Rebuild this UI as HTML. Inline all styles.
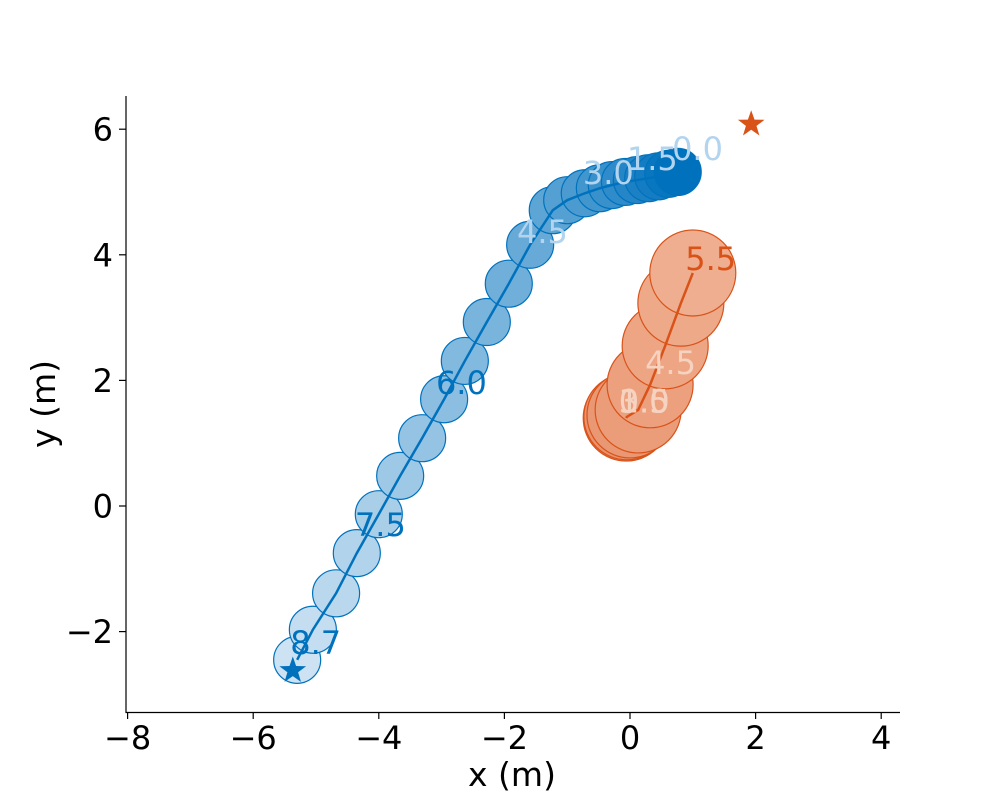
<!DOCTYPE html>
<html><head><meta charset="utf-8"><style>
body{margin:0;background:#fff}
svg{display:block;font-family:"DejaVu Sans","Liberation Sans",sans-serif}
</style></head><body>
<svg id="chart" width="1000" height="800">
<g id="plot"></g>
<g id="axes"></g>
</svg>
<script>
const blueX=[0.76,0.61,0.45,0.29,0.11,-0.08,-0.29,-0.48,-0.72,-1.00,-1.23,-1.59,-1.93,-2.28,-2.63,-2.96,-3.31,-3.66,-4.00,-4.35,-4.68,-5.05,-5.30];
const blueY=[5.32,5.29,5.25,5.22,5.19,5.16,5.11,5.06,4.98,4.87,4.71,4.16,3.54,2.93,2.31,1.70,1.08,0.48,-0.13,-0.75,-1.39,-1.97,-2.45];
const orangeX=[-0.06,-0.05,0.00,0.13,0.32,0.56,0.81,1.00];
const orangeY=[1.40,1.42,1.45,1.53,1.93,2.55,3.23,3.71];
const blueLabels=["0.0","1.5","3.0","4.5","6.0","7.5","8.7"];
const blueLabelX=[0.67,-0.05,-0.75,-1.80,-3.09,-4.38,-5.41];
const blueLabelY=[5.51,5.35,5.13,4.19,1.78,-0.48,-2.36];
const blueLabelLight=[1,1,1,1,0,0,0];
const orangeLabels=["0.0","1.5","3.0","4.5","5.5"];
const orangeLabelX=[-0.18,-0.18,-0.18,0.24,0.88];
const orangeLabelY=[1.49,1.49,1.49,2.10,3.76];
const orangeLabelLight=[1,1,1,1,0];
const goalBlue=[-5.37,-2.62];
const goalOrange=[1.93,6.08];
const xTicks=[-8,-6,-4,-2,0,2,4];
const yTicks=[-2,0,2,4,6];

const NS="http://www.w3.org/2000/svg";
const sx=v=>630+62.8*v, sy=v=>506-62.8*v;
const plot=document.getElementById('plot'), axes=document.getElementById('axes');
function mk(tag,attrs,parent){const e=document.createElementNS(NS,tag);for(const k in attrs)e.setAttribute(k,attrs[k]);parent.appendChild(e);return e;}
function mix(a,b,t){return 'rgb('+a.map((v,i)=>Math.round(v+(b[i]-v)*t)).join(',')+')';}

for(let i=0;i<orangeX.length;i++){
  const c=mk('circle',{cx:sx(orangeX[i]),cy:sy(orangeY[i]),r:43,fill:mix([232,142,104],[239,174,143],i/(orangeX.length-1)),stroke:'#d95319','stroke-width':1.2},plot);
  
  
}
let od=orangeX.map((v,i)=>(i?'L':'M')+sx(v)+' '+sy(orangeY[i])).join(' ');
const ol=mk('path',{d:od,fill:'none',stroke:'#d95319','stroke-width':2.5},plot);



for(let i=blueX.length-1;i>=0;i--){
  const c=mk('circle',{cx:sx(blueX[i]),cy:sy(blueY[i]),r:23.5,fill:mix([0,114,189],[205,226,242],i/(blueX.length-1)),stroke:'#0072bd','stroke-width':1.2},plot);
  
  
}
let bd=blueX.map((v,i)=>(i?'L':'M')+sx(v)+' '+sy(blueY[i])).join(' ');
const bl=mk('path',{d:bd,fill:'none',stroke:'#0072bd','stroke-width':2.5},plot);



function star(x,y,r,color,name){
  let p=[];for(let k=0;k<10;k++){const a=-Math.PI/2+k*Math.PI/5;const rr=k%2?r*0.4:r;p.push((x+rr*Math.cos(a)).toFixed(1)+','+(y+rr*Math.sin(a)).toFixed(1));}
  const s=mk('polygon',{points:p.join(' '),fill:color},plot);
  
  
}
star(sx(goalBlue[0]),sy(goalBlue[1]),14,'#0072bd','blue-goal-star');
star(sx(goalOrange[0]),sy(goalOrange[1]),14,'#d95319','orange-goal-star');

for(let i=0;i<blueLabels.length;i++){
  const t=mk('text',{x:sx(blueLabelX[i]),y:sy(blueLabelY[i]),'font-size':32,fill:blueLabelLight[i]?'#b3d4ee':'#0072bd'},plot);
  t.textContent=blueLabels[i];
  
  
}
for(let i=0;i<orangeLabels.length;i++){
  const t=mk('text',{x:sx(orangeLabelX[i]),y:sy(orangeLabelY[i]),'font-size':32,fill:orangeLabelLight[i]?'#f6d2c1':'#d95319'},plot);
  t.textContent=orangeLabels[i];
  
  
}

const ls=mk('line',{x1:126,y1:96,x2:126,y2:713,stroke:'#000','stroke-width':1.2},axes);


const bs=mk('line',{x1:125.5,y1:712.5,x2:900,y2:712.5,stroke:'#000','stroke-width':1.2},axes);


for(const v of xTicks){
  const x=sx(v);
  const l=mk('line',{x1:x,y1:712,x2:x,y2:719,stroke:'#000','stroke-width':1.2},axes);
  
  
  const t=mk('text',{x:x,y:749,'font-size':32,'text-anchor':'middle',fill:'#000'},axes);
  t.textContent=v<0?'\u2212'+(-v):String(v);
  
  
}
for(const v of yTicks){
  const y=sy(v);
  const l=mk('line',{x1:119,y1:y,x2:126,y2:y,stroke:'#000','stroke-width':1.2},axes);
  
  
  const t=mk('text',{x:113,y:y+11.5,'font-size':32,'text-anchor':'end',fill:'#000'},axes);
  t.textContent=v<0?'\u2212'+(-v):String(v);
  
  
}
const xt=mk('text',{x:512,y:786,'font-size':33,'text-anchor':'middle',fill:'#000'},axes);
xt.textContent='x (m)';


const yt=mk('text',{x:0,y:0,'font-size':33,'text-anchor':'middle',fill:'#000',transform:'translate(55,404) rotate(-90)'},axes);
yt.textContent='y (m)';


</script>
</body></html>
